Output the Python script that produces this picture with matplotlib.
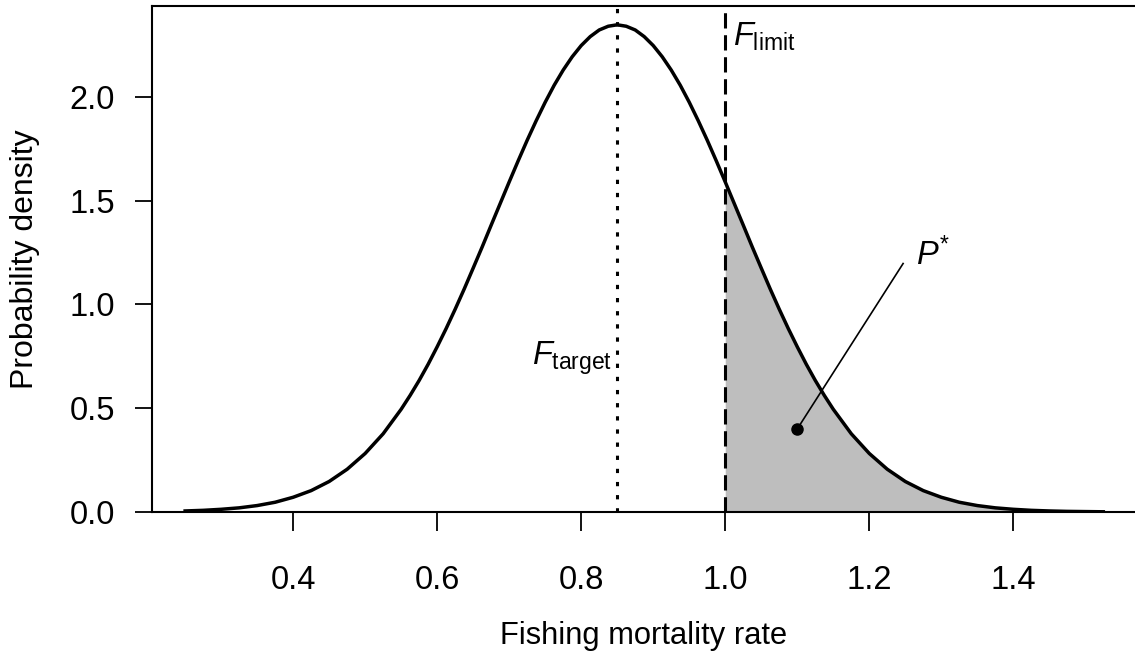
import matplotlib
matplotlib.use("Agg")
import matplotlib.pyplot as plt

plt.rcParams['font.family'] = ['Liberation Sans', 'DejaVu Sans']
plt.rcParams['mathtext.fontset'] = 'custom'
plt.rcParams['mathtext.rm'] = 'Liberation Sans'
plt.rcParams['mathtext.it'] = 'Liberation Sans:italic'

# densidad (F, densidad)
f_vals = [0.25, 0.275, 0.3, 0.325, 0.35, 0.375, 0.4, 0.425, 0.45, 0.475,
          0.5, 0.525, 0.55, 0.5625, 0.575, 0.5875, 0.6, 0.6125, 0.625, 0.6375,
          0.65, 0.6625, 0.675, 0.6875, 0.7, 0.7125, 0.725, 0.7375, 0.75, 0.7625,
          0.775, 0.7875, 0.8, 0.8125, 0.825, 0.8375, 0.85, 0.8625, 0.875, 0.8875,
          0.9, 0.9125, 0.925, 0.9375, 0.95, 0.9625, 0.975, 0.9875, 1.0, 1.0125,
          1.025, 1.0375, 1.05, 1.0625, 1.075, 1.0875, 1.1, 1.1125, 1.125, 1.1375,
          1.15, 1.175, 1.2, 1.225, 1.25, 1.275, 1.3, 1.325, 1.35, 1.375,
          1.4, 1.425, 1.45, 1.475, 1.5, 1.525]
dens = [0.005, 0.008, 0.013, 0.020, 0.031, 0.047, 0.071, 0.103, 0.147, 0.206,
        0.282, 0.377, 0.495, 0.562, 0.634, 0.712, 0.796, 0.884, 0.977, 1.074,
        1.175, 1.277, 1.382, 1.486, 1.590, 1.692, 1.791, 1.885, 1.974, 2.056,
        2.129, 2.193, 2.247, 2.290, 2.322, 2.340, 2.347, 2.340, 2.322, 2.290,
        2.247, 2.193, 2.129, 2.056, 1.974, 1.885, 1.791, 1.692, 1.590, 1.486,
        1.382, 1.277, 1.175, 1.074, 0.977, 0.884, 0.796, 0.712, 0.634, 0.562,
        0.495, 0.377, 0.282, 0.206, 0.147, 0.103, 0.071, 0.047, 0.031, 0.020,
        0.013, 0.008, 0.005, 0.003, 0.002, 0.001]

f_target = 0.85
f_limit = 1.0
p_punto = (1.1, 0.4)
p_texto = (1.247, 1.197)

x_ticks = [0.4, 0.6, 0.8, 1.0, 1.2, 1.4]
y_ticks = [0.0, 0.5, 1.0, 1.5, 2.0]

fig = plt.figure(figsize=(11.35, 6.54), dpi=100)
ax = fig.add_axes([152 / 1135, 142 / 654, 983 / 1135, 506 / 654])

# area sombreada P*
sx = [x for x in f_vals if x >= f_limit]
sy = [y for x, y in zip(f_vals, dens) if x >= f_limit]
ax.fill_between(sx, 0, sy, color='#BEBEBE', lw=0)

ax.plot(f_vals, dens, color='black', lw=2.5, solid_joinstyle='round')

ax.axvline(f_target, color='black', lw=2.2, linestyle=(0, (1.4, 2.9)))
ax.axvline(f_limit, color='black', lw=2.2, linestyle=(0, (5, 2.2)))

ax.plot([p_punto[0], p_texto[0]], [p_punto[1], p_texto[1]], color='black', lw=1.2)
ax.plot(*p_punto, 'o', color='black', ms=8)

ax.text(0.731, 0.71, r'$\mathit{F}_{\mathrm{target}}$', fontsize=23.5, va='baseline')
ax.text(1.011, 2.245, r'$\mathit{F}_{\mathrm{limit}}$', fontsize=23.5, va='baseline')
ax.text(1.265, 1.19, r'$\mathit{P}^{*}$', fontsize=23.5, va='baseline')

ax.set_xlim(0.204, 1.569)
ax.set_ylim(0, 2.4375)
ax.set_xticks(x_ticks)
ax.set_xticklabels(['0.4', '0.6', '0.8', '1.0', '1.2', '1.4'])
ax.set_yticks(y_ticks)
ax.set_yticklabels(['0.0', '0.5', '1.0', '1.5', '2.0'])
ax.tick_params(axis='x', length=14, width=1.3, pad=24, labelsize=23.5)
ax.tick_params(axis='y', length=12.5, width=1.3, pad=14, labelsize=23.5)

for s in ['left', 'top', 'bottom']:
    ax.spines[s].set_linewidth(1.5)
ax.spines['right'].set_visible(False)

ax.set_xlabel('Fishing mortality rate', fontsize=22.2, labelpad=18)
ax.set_ylabel('Probability density', fontsize=23, labelpad=21)

fig.savefig('out.png', dpi=100)
